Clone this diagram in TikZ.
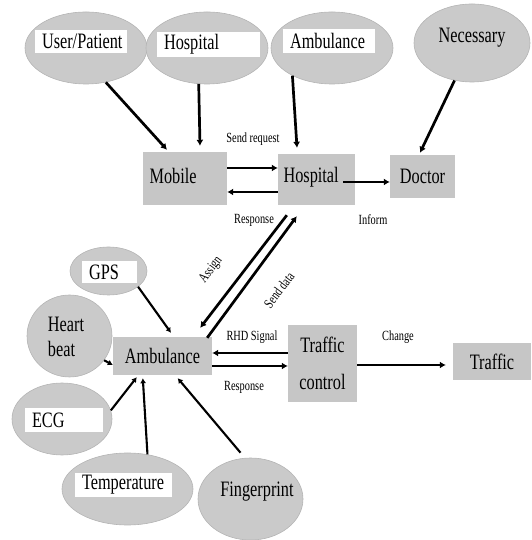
\documentclass[tikz,border=0pt]{standalone}
\usepackage{fontspec}
\setmainfont{Liberation Serif}[FakeStretch=0.74]
\usetikzlibrary{arrows.meta,shapes.geometric}
\definecolor{ellfill}{HTML}{CACACA}
\definecolor{elldraw}{HTML}{B4B4B4}
\definecolor{boxfill}{HTML}{C6C6C6}
\begin{document}
\begin{tikzpicture}[x=1pt,y=1pt,
  oval/.style={ellipse, fill=ellfill, draw=elldraw, line width=0.6pt, inner sep=0pt},
  wlabel/.style={rectangle, fill=white, inner sep=0pt, inner xsep=7pt, align=left, font=\fontsize{22}{24}\selectfont},
  graybox/.style={rectangle, fill=boxfill, inner sep=0pt, font=\fontsize{22}{24}\selectfont},
  bigtext/.style={font=\fontsize{22}{24}\selectfont},
  smalltext/.style={font=\fontsize{14}{15}\selectfont, inner sep=0pt},
  thickarrow/.style={line width=2.7pt, -{Latex[length=6pt,width=7pt]}},
  thinarrow/.style={line width=2.1pt, -{Latex[length=5pt,width=6pt]}}
]
\useasboundingbox (0,0) rectangle (531,540);

% top ellipses
\node[oval, minimum width=122pt, minimum height=72pt] (up) at (86,492) {};
\node[wlabel, minimum width=92pt, minimum height=23pt, text width=78pt] (upl) at (81,498.5) {User/Patient};
\node[oval, minimum width=122pt, minimum height=72pt] (hpe) at (207,492) {};
\node[wlabel, minimum width=103pt, minimum height=25pt, text width=89pt] (hpl) at (208.5,495.5) {Hospital};
\node[oval, minimum width=122pt, minimum height=72pt] (ape) at (332,492) {};
\node[wlabel, minimum width=92pt, minimum height=24pt, text width=78pt] (apl) at (329,499) {Ambulance};
\node[oval, minimum width=116pt, minimum height=78pt] (np) at (472,497) {};
\node[bigtext] (npl) at (472,502) {Necessary};

% boxes
\node[graybox, minimum width=84pt, minimum height=53pt] (mob) at (185,361.5) {};
\node[bigtext, anchor=west] (mobl) at (146,364) {Mobile};
\node[graybox, minimum width=77pt, minimum height=51pt] (hb) at (316.5,360.5) {};
\node[bigtext, anchor=west] (hbl) at (280,363) {Hospital};
\node[graybox, minimum width=65pt, minimum height=43pt] (doc) at (422.5,363.5) {Doctor};
\node[graybox, minimum width=99pt, minimum height=38pt] (amb) at (162.5,184) {Ambulance};
\node[graybox, minimum width=69pt, minimum height=77pt] (tc) at (322.5,176.5) {};
\node[bigtext] (tc1) at (322.5,195) {Traffic};
\node[bigtext] (tc2) at (322.5,158) {control};
\node[graybox, minimum width=78pt, minimum height=37pt] (tr) at (492,178.5) {Traffic};

% lower ellipses
\node[oval, minimum width=77pt, minimum height=48pt] (gps) at (108.5,269) {};
\node[wlabel, minimum width=55pt, minimum height=22pt, text width=41pt] (gpsl) at (109.5,268) {GPS};
\node[oval, minimum width=85pt, minimum height=82pt] (hrt) at (69.5,204) {};
\node[bigtext, align=left, font=\fontsize{22}{25}\selectfont] (hrtl) at (66,203) {Heart\\beat};
\node[oval, minimum width=100pt, minimum height=72pt] (ecg) at (62,121) {};
\node[wlabel, minimum width=78pt, minimum height=24pt, text width=64pt] (ecgl) at (64,120) {ECG};
\node[oval, minimum width=131pt, minimum height=72pt] (tmp) at (127.5,51) {};
\node[wlabel, minimum width=97pt, minimum height=24pt, text width=83pt] (tmpl) at (123.5,55) {Temperature};
\node[oval, minimum width=105pt, minimum height=82pt] (fing) at (250.5,41) {};
\node[bigtext] (fingl) at (257,48) {Fingerprint};

% top connectors
\draw[thickarrow] (up.-60) -- ([xshift=-18pt,yshift=2pt]mob.north);
\draw[thickarrow] (hpe.-103) -- ([xshift=15pt,yshift=6pt]mob.north);
\draw[thickarrow] (ape.-145) -- ([xshift=-19.5pt,yshift=6pt]hb.north);
\draw[thickarrow] (np.-115) -- ([xshift=-2.5pt,yshift=2pt]doc.north);

% mobile / hospital / doctor
\draw[thickarrow] ([yshift=10.5pt]mob.east) -- ([yshift=11.5pt]hb.west);
\draw[thickarrow] ([yshift=-12.5pt]hb.west) -- ([yshift=-13.5pt]mob.east);
\draw[thickarrow] ([xshift=-12pt,yshift=-2.5pt]hb.east) -- ([yshift=-5.5pt]doc.west);
\node[smalltext] (lsend) at (253,401) {Send request};
\node[smalltext] (lresp1) at (254,320) {Response};
\node[smalltext] (linf) at (373,320) {Inform};

% hospital / ambulance
\draw[thickarrow] ([xshift=9pt,yshift=-10pt]hb.south west) -- ([xshift=-12pt,yshift=9pt]amb.north east);
\draw[thickarrow] ([xshift=-5pt,yshift=-1pt]amb.north east) -- ([xshift=19pt,yshift=-11pt]hb.south west);
\node[smalltext, rotate=53] (lassign) at (211,270) {Assign};
\node[smalltext, rotate=53] (lsdata) at (279,250) {Send data};

% ambulance / traffic control / traffic
\draw[thickarrow] ([yshift=10.5pt]tc.west) -- ([yshift=3pt]amb.east);
\draw[thickarrow] ([yshift=-10pt]amb.east) -- ([yshift=-2.5pt]tc.west);
\draw[thickarrow, shorten >=7pt] ([yshift=-1.5pt]tc.east) -- ([yshift=-3.5pt]tr.west);
\node[smalltext] (lrhd) at (252,203) {RHD Signal};
\node[smalltext] (lresp2) at (244,153) {Response};
\node[smalltext] (lchg) at (398,203) {Change};

% sensors
\draw[thinarrow] (gps.-28) -- ([xshift=8.5pt,yshift=4pt]amb.north);
\draw[thinarrow] (hrt.-35) -- ([yshift=-9pt]amb.west);
\draw[thinarrow] (ecg.10) -- ([xshift=24pt,yshift=-2pt]amb.south west);
\draw[thinarrow] (tmp.60) -- ([xshift=30pt,yshift=-3pt]amb.south west);
\draw[thinarrow] ([xshift=-10pt,yshift=5pt]fing.north) -- ([xshift=-34.5pt,yshift=-3pt]amb.south east);
\end{tikzpicture}
\end{document}
